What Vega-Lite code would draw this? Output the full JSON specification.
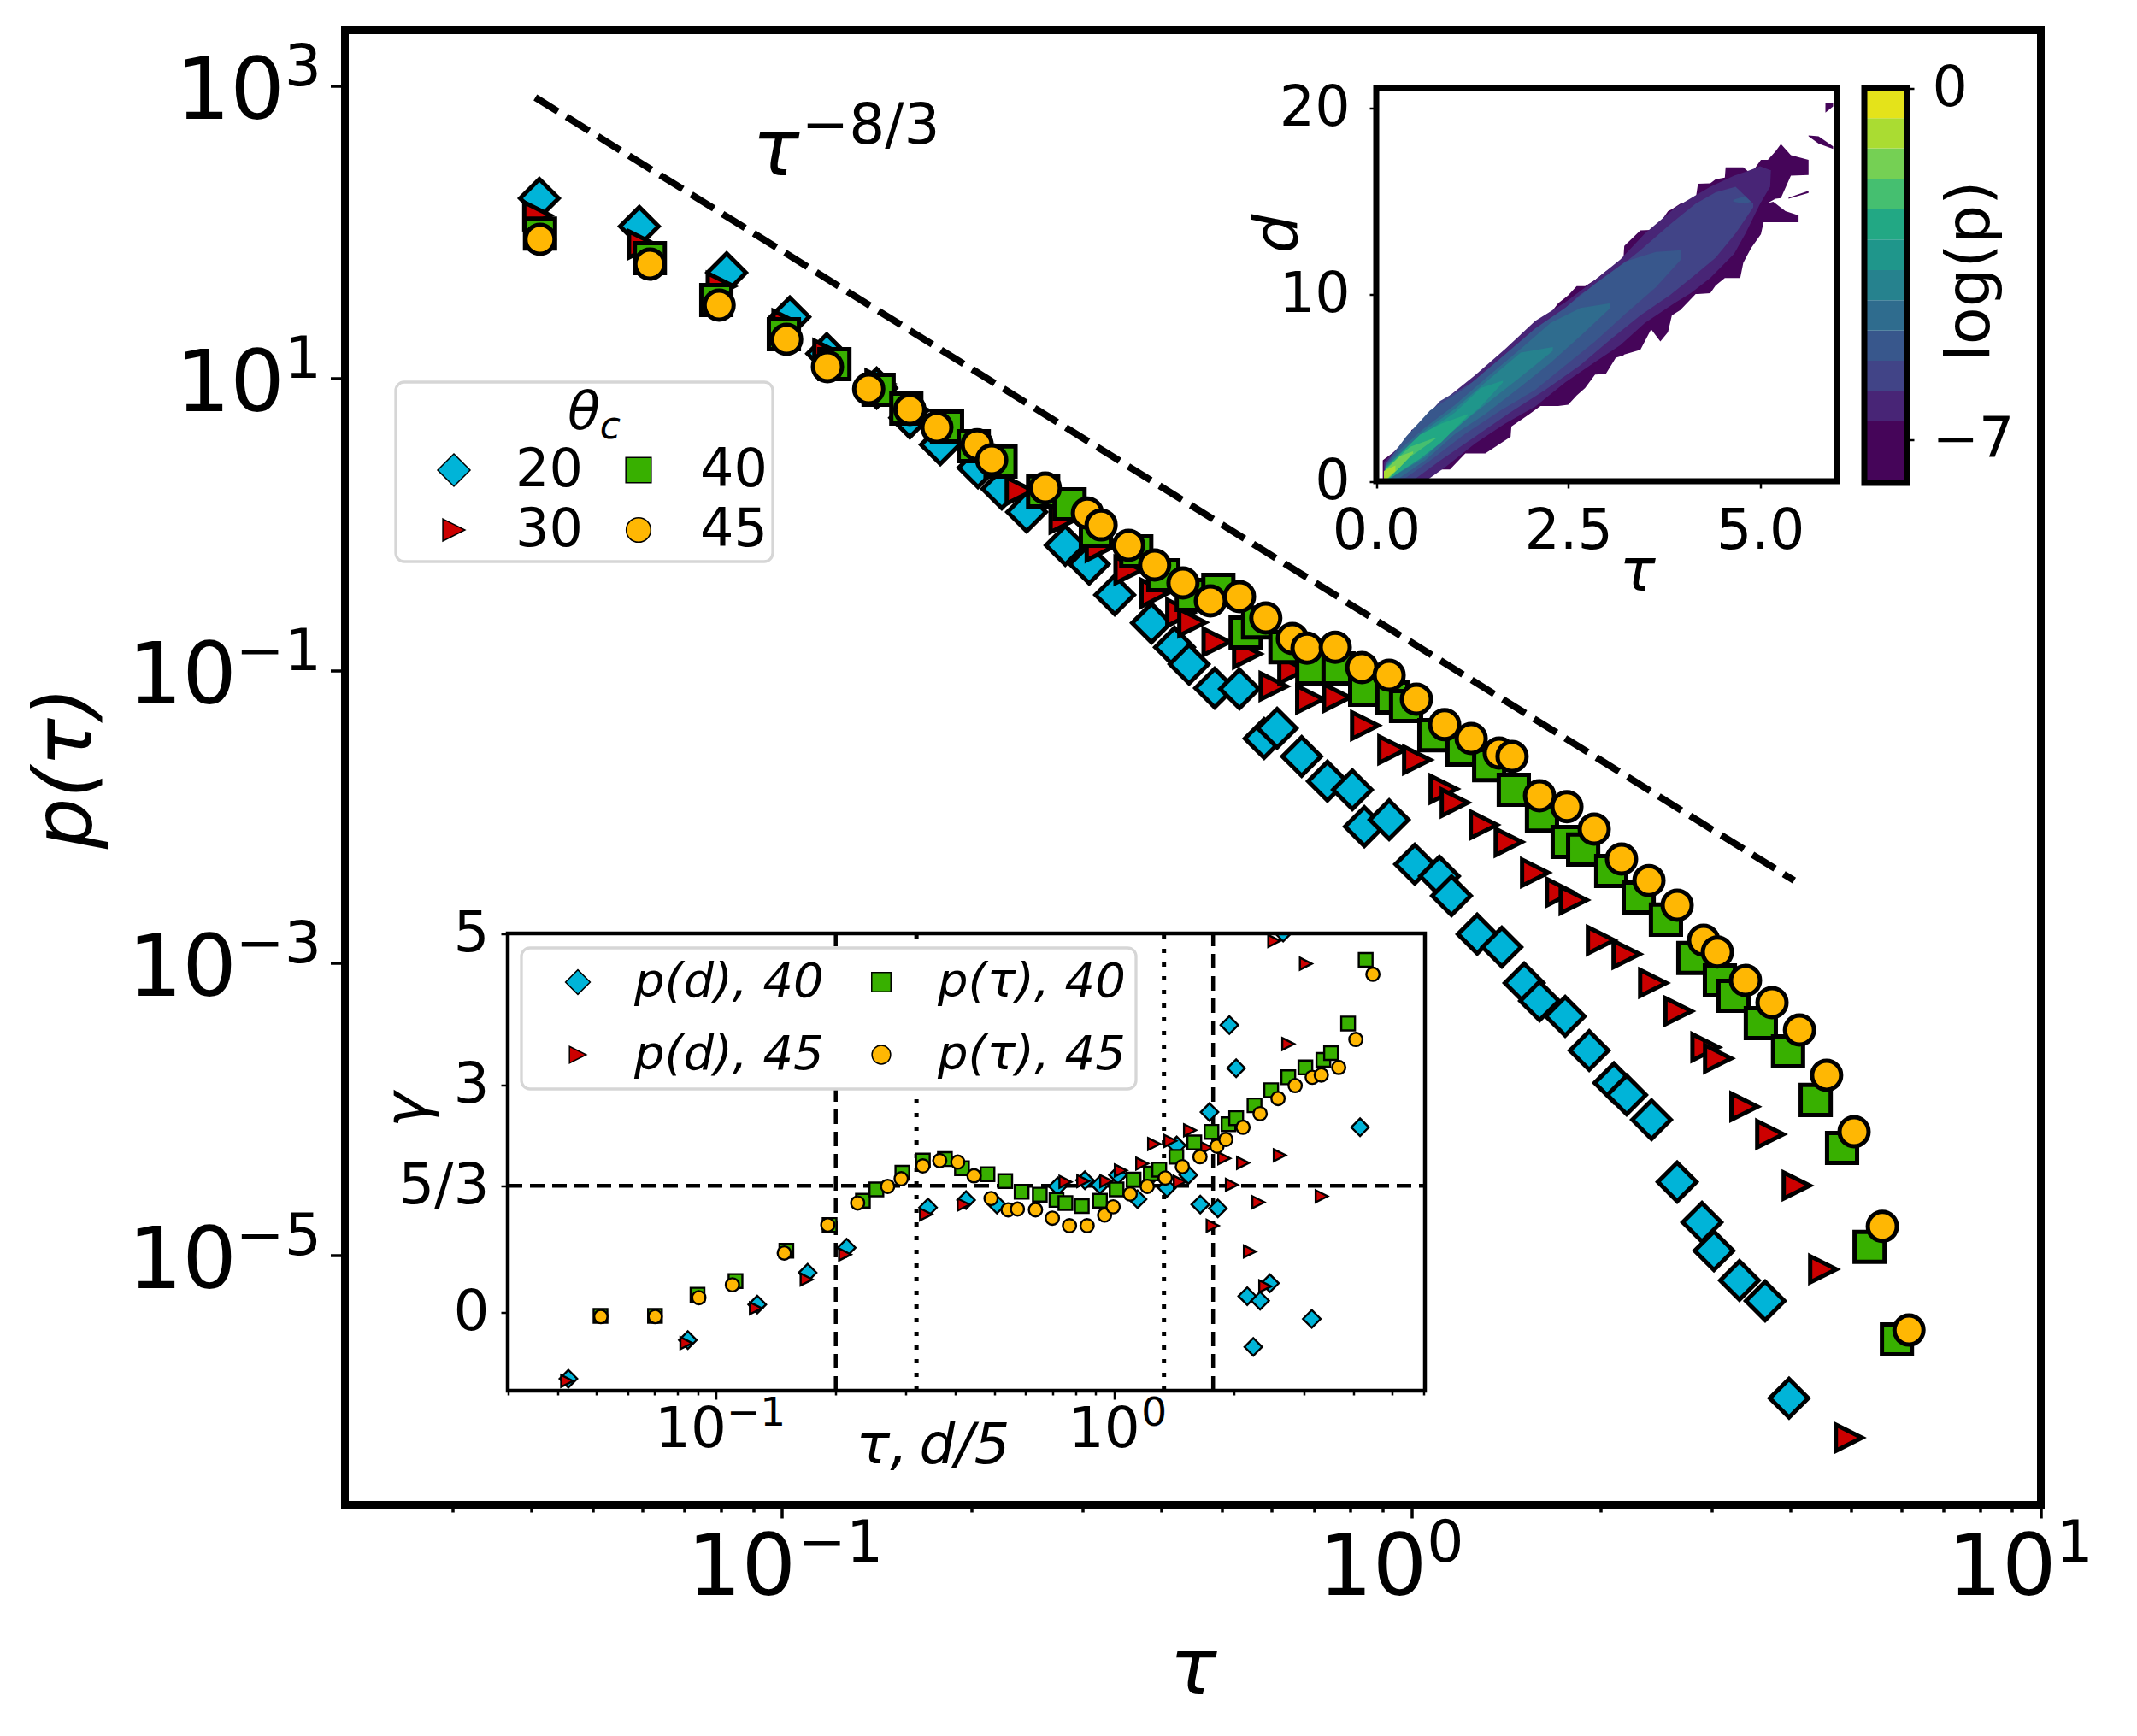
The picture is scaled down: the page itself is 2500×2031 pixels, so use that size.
{
  "$schema": "https://vega.github.io/schema/vega-lite/v6.json",
  "width": 1984,
  "height": 1725,
  "autosize": {"type": "none"},
  "padding": {"left": 403.5, "top": 35.5, "right": 112.5, "bottom": 270.5},
  "background": "white",
  "config": {
    "font": "DejaVu Sans",
    "view": {"stroke": "black", "strokeWidth": 9},
    "axis": {"grid": false, "domain": false, "labelColor": "black", "tickColor": "black", "titleColor": "black", "titleFontWeight": "normal", "labelOverlap": false, "labelFlush": false},
    "legend": {"strokeWidth": 3.3, "labelColor": "black", "titleColor": "black"}
  },
  "datasets": {
    "main": [
      {"theta":"20","tau":0.0409,"p":174},{"theta":"20","tau":0.0589,"p":112},{"theta":"20","tau":0.081,"p":54},{"theta":"20","tau":0.102,"p":26.9},{"theta":"20","tau":0.1167,"p":15.1},{"theta":"20","tau":0.14,"p":8.79},{"theta":"20","tau":0.158,"p":5.5},{"theta":"20","tau":0.1766,"p":3.61},{"theta":"20","tau":0.2026,"p":2.51},{"theta":"20","tau":0.221,"p":1.8},{"theta":"20","tau":0.242,"p":1.25},{"theta":"20","tau":0.2786,"p":0.74},{"theta":"20","tau":0.304,"p":0.551},{"theta":"20","tau":0.3337,"p":0.339},{"theta":"20","tau":0.3815,"p":0.218},{"theta":"20","tau":0.415,"p":0.149},{"theta":"20","tau":0.4377,"p":0.114},{"theta":"20","tau":0.4805,"p":0.0783},{"theta":"20","tau":0.526,"p":0.0773},{"theta":"20","tau":0.5755,"p":0.0354},{"theta":"20","tau":0.6034,"p":0.0416},{"theta":"20","tau":0.66,"p":0.0267},{"theta":"20","tau":0.725,"p":0.0181},{"theta":"20","tau":0.794,"p":0.0158},{"theta":"20","tau":0.8295,"p":0.00885},{"theta":"20","tau":0.908,"p":0.00986},{"theta":"20","tau":0.997,"p":0.0049},{"theta":"20","tau":1.091,"p":0.00406},{"theta":"20","tau":1.14,"p":0.00298},{"theta":"20","tau":1.252,"p":0.00163},{"theta":"20","tau":1.37,"p":0.00133},{"theta":"20","tau":1.486,"p":0.000756},{"theta":"20","tau":1.572,"p":0.00057},{"theta":"20","tau":1.726,"p":0.000448},{"theta":"20","tau":1.884,"p":0.000261},{"theta":"20","tau":2.062,"p":0.000157},{"theta":"20","tau":2.16,"p":0.00013},{"theta":"20","tau":2.365,"p":0.0000879},{"theta":"20","tau":2.597,"p":0.000033},{"theta":"20","tau":2.843,"p":0.0000175},{"theta":"20","tau":2.97,"p":0.0000112},{"theta":"20","tau":3.26,"p":0.00000701},{"theta":"20","tau":3.58,"p":0.00000508},{"theta":"20","tau":3.906,"p":0.0000011},
      {"theta":"30","tau":0.0406,"p":133},{"theta":"30","tau":0.0595,"p":84.2},{"theta":"30","tau":0.0793,"p":43.5},{"theta":"30","tau":0.1008,"p":24.1},{"theta":"30","tau":0.117,"p":15.1},{"theta":"30","tau":0.1415,"p":9.4},{"theta":"30","tau":0.161,"p":6.2},{"theta":"30","tau":0.236,"p":1.75},{"theta":"30","tau":0.277,"p":1.12},{"theta":"30","tau":0.316,"p":0.72},{"theta":"30","tau":0.351,"p":0.501},{"theta":"30","tau":0.386,"p":0.348},{"theta":"30","tau":0.424,"p":0.256},{"theta":"30","tau":0.443,"p":0.22},{"theta":"30","tau":0.484,"p":0.162},{"theta":"30","tau":0.541,"p":0.134},{"theta":"30","tau":0.596,"p":0.0804},{"theta":"30","tau":0.638,"p":0.104},{"theta":"30","tau":0.681,"p":0.0658},{"theta":"30","tau":0.751,"p":0.0675},{"theta":"30","tau":0.832,"p":0.0434},{"theta":"30","tau":0.919,"p":0.0297},{"theta":"30","tau":1.006,"p":0.0253},{"theta":"30","tau":1.108,"p":0.016},{"theta":"30","tau":1.154,"p":0.0129},{"theta":"30","tau":1.283,"p":0.0091},{"theta":"30","tau":1.405,"p":0.00695},{"theta":"30","tau":1.547,"p":0.00429},{"theta":"30","tau":1.694,"p":0.00315},{"theta":"30","tau":1.781,"p":0.00279},{"theta":"30","tau":1.967,"p":0.00148},{"theta":"30","tau":2.16,"p":0.00119},{"theta":"30","tau":2.38,"p":0.000756},{"theta":"30","tau":2.61,"p":0.000485},{"theta":"30","tau":2.88,"p":0.000275},{"theta":"30","tau":3.016,"p":0.000231},{"theta":"30","tau":3.32,"p":0.000108},{"theta":"30","tau":3.648,"p":0.00007},{"theta":"30","tau":4.018,"p":0.0000312},{"theta":"30","tau":4.426,"p":0.00000836},{"theta":"30","tau":4.86,"p":0.00000059},
      {"theta":"40","tau":0.041,"p":100},{"theta":"40","tau":0.0612,"p":67.9},{"theta":"40","tau":0.078,"p":35.1},{"theta":"40","tau":0.0998,"p":20.5},{"theta":"40","tau":0.12,"p":12.8},{"theta":"40","tau":0.141,"p":8.55},{"theta":"40","tau":0.156,"p":6.37},{"theta":"40","tau":0.181,"p":4.8},{"theta":"40","tau":0.1995,"p":3.52},{"theta":"40","tau":0.22,"p":2.77},{"theta":"40","tau":0.257,"p":1.73},{"theta":"40","tau":0.283,"p":1.41},{"theta":"40","tau":0.3115,"p":0.93},{"theta":"40","tau":0.361,"p":0.673},{"theta":"40","tau":0.3985,"p":0.462},{"theta":"40","tau":0.442,"p":0.339},{"theta":"40","tau":0.487,"p":0.367},{"theta":"40","tau":0.538,"p":0.1875},{"theta":"40","tau":0.563,"p":0.22},{"theta":"40","tau":0.622,"p":0.149},{"theta":"40","tau":0.686,"p":0.1067},{"theta":"40","tau":0.755,"p":0.1067},{"theta":"40","tau":0.832,"p":0.0762},{"theta":"40","tau":0.919,"p":0.0675},{"theta":"40","tau":0.966,"p":0.059},{"theta":"40","tau":1.071,"p":0.0373},{"theta":"40","tau":1.187,"p":0.0297},{"theta":"40","tau":1.308,"p":0.0233},{"theta":"40","tau":1.431,"p":0.0158},{"theta":"40","tau":1.586,"p":0.01054},{"theta":"40","tau":1.742,"p":0.00695},{"theta":"40","tau":1.843,"p":0.00617},{"theta":"40","tau":2.042,"p":0.0044},{"theta":"40","tau":2.257,"p":0.0029},{"theta":"40","tau":2.493,"p":0.00205},{"theta":"40","tau":2.755,"p":0.00112},{"theta":"40","tau":3.035,"p":0.000787},{"theta":"40","tau":3.19,"p":0.000618},{"theta":"40","tau":3.524,"p":0.000402},{"theta":"40","tau":3.892,"p":0.000258},{"theta":"40","tau":4.305,"p":0.00012},{"theta":"40","tau":4.74,"p":0.0000564},{"theta":"40","tau":5.24,"p":0.0000119},{"theta":"40","tau":5.79,"p":0.00000277},
      {"theta":"45","tau":0.041,"p":91.3},{"theta":"45","tau":0.0612,"p":61.8},{"theta":"45","tau":0.0788,"p":32.4},{"theta":"45","tau":0.1008,"p":18.9},{"theta":"45","tau":0.117,"p":12.3},{"theta":"45","tau":0.136,"p":8.67},{"theta":"45","tau":0.158,"p":6.28},{"theta":"45","tau":0.1744,"p":4.73},{"theta":"45","tau":0.202,"p":3.61},{"theta":"45","tau":0.213,"p":2.84},{"theta":"45","tau":0.259,"p":1.82},{"theta":"45","tau":0.302,"p":1.23},{"theta":"45","tau":0.3175,"p":1.02},{"theta":"45","tau":0.351,"p":0.74},{"theta":"45","tau":0.386,"p":0.543},{"theta":"45","tau":0.428,"p":0.409},{"theta":"45","tau":0.473,"p":0.309},{"theta":"45","tau":0.526,"p":0.33},{"theta":"45","tau":0.579,"p":0.236},{"theta":"45","tau":0.638,"p":0.171},{"theta":"45","tau":0.673,"p":0.147},{"theta":"45","tau":0.746,"p":0.149},{"theta":"45","tau":0.822,"p":0.108},{"theta":"45","tau":0.908,"p":0.0957},{"theta":"45","tau":1.003,"p":0.0658},{"theta":"45","tau":1.112,"p":0.044},{"theta":"45","tau":1.225,"p":0.0354},{"theta":"45","tau":1.357,"p":0.0282},{"theta":"45","tau":1.422,"p":0.0267},{"theta":"45","tau":1.572,"p":0.0144},{"theta":"45","tau":1.737,"p":0.0121},{"theta":"45","tau":1.919,"p":0.00851},{"theta":"45","tau":2.12,"p":0.00531},{"theta":"45","tau":2.343,"p":0.00379},{"theta":"45","tau":2.597,"p":0.00257},{"theta":"45","tau":2.86,"p":0.00148},{"theta":"45","tau":3.007,"p":0.00123},{"theta":"45","tau":3.332,"p":0.000787},{"theta":"45","tau":3.671,"p":0.000555},{"theta":"45","tau":4.058,"p":0.000361},{"theta":"45","tau":4.48,"p":0.000177},{"theta":"45","tau":4.952,"p":0.0000728},{"theta":"45","tau":5.49,"p":0.0000164},{"theta":"45","tau":6.05,"p":0.00000321}
    ],
    "gamma": [
      {"series":"p(d), 40","t":0.0426,"gamma":-0.88},{"series":"p(d), 40","t":0.085,"gamma":-0.37},{"series":"p(d), 40","t":0.127,"gamma":0.1},{"series":"p(d), 40","t":0.17,"gamma":0.52},{"series":"p(d), 40","t":0.213,"gamma":0.85},{"series":"p(d), 40","t":0.341,"gamma":1.38},{"series":"p(d), 40","t":0.425,"gamma":1.48},{"series":"p(d), 40","t":0.508,"gamma":1.42},{"series":"p(d), 40","t":0.722,"gamma":1.66},{"series":"p(d), 40","t":0.845,"gamma":1.74},{"series":"p(d), 40","t":0.922,"gamma":1.68},{"series":"p(d), 40","t":1.023,"gamma":1.81},{"series":"p(d), 40","t":1.146,"gamma":1.49},{"series":"p(d), 40","t":1.261,"gamma":1.84},{"series":"p(d), 40","t":1.358,"gamma":1.64},{"series":"p(d), 40","t":1.437,"gamma":2.2},{"series":"p(d), 40","t":1.537,"gamma":1.81},{"series":"p(d), 40","t":1.647,"gamma":1.42},{"series":"p(d), 40","t":1.737,"gamma":2.64},{"series":"p(d), 40","t":1.823,"gamma":1.37},{"series":"p(d), 40","t":1.949,"gamma":3.79},{"series":"p(d), 40","t":2.027,"gamma":3.22},{"series":"p(d), 40","t":2.161,"gamma":0.21},{"series":"p(d), 40","t":2.238,"gamma":-0.46},{"series":"p(d), 40","t":2.328,"gamma":0.15},{"series":"p(d), 40","t":2.464,"gamma":0.38},{"series":"p(d), 40","t":2.66,"gamma":5.01},{"series":"p(d), 40","t":3.139,"gamma":-0.09},{"series":"p(d), 40","t":4.15,"gamma":2.44},
      {"series":"p(d), 45","t":0.0423,"gamma":-0.91},{"series":"p(d), 45","t":0.0843,"gamma":-0.41},{"series":"p(d), 45","t":0.126,"gamma":0.05},{"series":"p(d), 45","t":0.169,"gamma":0.43},{"series":"p(d), 45","t":0.211,"gamma":0.76},{"series":"p(d), 45","t":0.337,"gamma":1.29},{"series":"p(d), 45","t":0.419,"gamma":1.42},{"series":"p(d), 45","t":0.755,"gamma":1.72},{"series":"p(d), 45","t":0.837,"gamma":1.73},{"series":"p(d), 45","t":0.956,"gamma":1.73},{"series":"p(d), 45","t":1.04,"gamma":1.87},{"series":"p(d), 45","t":1.177,"gamma":1.96},{"series":"p(d), 45","t":1.261,"gamma":2.22},{"series":"p(d), 45","t":1.385,"gamma":2.26},{"series":"p(d), 45","t":1.463,"gamma":1.72},{"series":"p(d), 45","t":1.552,"gamma":2.4},{"series":"p(d), 45","t":1.705,"gamma":2.17},{"series":"p(d), 45","t":1.769,"gamma":1.14},{"series":"p(d), 45","t":1.892,"gamma":2.03},{"series":"p(d), 45","t":1.977,"gamma":1.68},{"series":"p(d), 45","t":2.109,"gamma":1.97},{"series":"p(d), 45","t":2.194,"gamma":0.8},{"series":"p(d), 45","t":2.305,"gamma":1.45},{"series":"p(d), 45","t":2.398,"gamma":0.34},{"series":"p(d), 45","t":2.526,"gamma":4.9},{"series":"p(d), 45","t":2.608,"gamma":2.07},{"series":"p(d), 45","t":2.74,"gamma":3.54},{"series":"p(d), 45","t":3.034,"gamma":4.6},{"series":"p(d), 45","t":3.323,"gamma":1.53},
      {"series":"p(τ), 40","t":0.0513,"gamma":-0.05},{"series":"p(τ), 40","t":0.0703,"gamma":-0.05},{"series":"p(τ), 40","t":0.0899,"gamma":0.23},{"series":"p(τ), 40","t":0.112,"gamma":0.41},{"series":"p(τ), 40","t":0.1503,"gamma":0.81},{"series":"p(τ), 40","t":0.193,"gamma":1.15},{"series":"p(τ), 40","t":0.234,"gamma":1.47},{"series":"p(τ), 40","t":0.253,"gamma":1.62},{"series":"p(τ), 40","t":0.294,"gamma":1.84},{"series":"p(τ), 40","t":0.331,"gamma":2.0},{"series":"p(τ), 40","t":0.376,"gamma":2.02},{"series":"p(τ), 40","t":0.415,"gamma":1.9},{"series":"p(τ), 40","t":0.481,"gamma":1.82},{"series":"p(τ), 40","t":0.533,"gamma":1.73},{"series":"p(τ), 40","t":0.586,"gamma":1.59},{"series":"p(τ), 40","t":0.651,"gamma":1.55},{"series":"p(τ), 40","t":0.717,"gamma":1.48},{"series":"p(τ), 40","t":0.755,"gamma":1.44},{"series":"p(τ), 40","t":0.83,"gamma":1.4},{"series":"p(τ), 40","t":0.922,"gamma":1.47},{"series":"p(τ), 40","t":1.015,"gamma":1.62},{"series":"p(τ), 40","t":1.12,"gamma":1.75},{"series":"p(τ), 40","t":1.237,"gamma":1.83},{"series":"p(τ), 40","t":1.299,"gamma":1.88},{"series":"p(τ), 40","t":1.434,"gamma":2.05},{"series":"p(τ), 40","t":1.591,"gamma":2.24},{"series":"p(τ), 40","t":1.757,"gamma":2.38},{"series":"p(τ), 40","t":1.939,"gamma":2.48},{"series":"p(τ), 40","t":2.027,"gamma":2.56},{"series":"p(τ), 40","t":2.254,"gamma":2.73},{"series":"p(τ), 40","t":2.482,"gamma":2.93},{"series":"p(τ), 40","t":2.74,"gamma":3.1},{"series":"p(τ), 40","t":3.025,"gamma":3.23},{"series":"p(τ), 40","t":3.356,"gamma":3.33},{"series":"p(τ), 40","t":3.509,"gamma":3.42},{"series":"p(τ), 40","t":3.873,"gamma":3.81},{"series":"p(τ), 40","t":4.287,"gamma":4.65},
      {"series":"p(τ), 45","t":0.0514,"gamma":-0.06},{"series":"p(τ), 45","t":0.0704,"gamma":-0.06},{"series":"p(τ), 45","t":0.0906,"gamma":0.19},{"series":"p(τ), 45","t":0.11,"gamma":0.36},{"series":"p(τ), 45","t":0.1485,"gamma":0.78},{"series":"p(τ), 45","t":0.191,"gamma":1.15},{"series":"p(τ), 45","t":0.227,"gamma":1.44},{"series":"p(τ), 45","t":0.27,"gamma":1.66},{"series":"p(τ), 45","t":0.292,"gamma":1.76},{"series":"p(τ), 45","t":0.331,"gamma":1.93},{"series":"p(τ), 45","t":0.365,"gamma":2.0},{"series":"p(τ), 45","t":0.405,"gamma":1.98},{"series":"p(τ), 45","t":0.445,"gamma":1.8},{"series":"p(τ), 45","t":0.491,"gamma":1.5},{"series":"p(τ), 45","t":0.542,"gamma":1.35},{"series":"p(τ), 45","t":0.572,"gamma":1.36},{"series":"p(τ), 45","t":0.635,"gamma":1.35},{"series":"p(τ), 45","t":0.7,"gamma":1.24},{"series":"p(τ), 45","t":0.773,"gamma":1.14},{"series":"p(τ), 45","t":0.856,"gamma":1.14},{"series":"p(τ), 45","t":0.947,"gamma":1.28},{"series":"p(τ), 45","t":0.995,"gamma":1.39},{"series":"p(τ), 45","t":1.098,"gamma":1.56},{"series":"p(τ), 45","t":1.212,"gamma":1.66},{"series":"p(τ), 45","t":1.345,"gamma":1.77},{"series":"p(τ), 45","t":1.485,"gamma":1.92},{"series":"p(τ), 45","t":1.644,"gamma":2.05},{"series":"p(τ), 45","t":1.814,"gamma":2.19},{"series":"p(τ), 45","t":1.91,"gamma":2.28},{"series":"p(τ), 45","t":2.109,"gamma":2.44},{"series":"p(τ), 45","t":2.328,"gamma":2.62},{"series":"p(τ), 45","t":2.582,"gamma":2.82},{"series":"p(τ), 45","t":2.851,"gamma":2.99},{"series":"p(τ), 45","t":3.147,"gamma":3.1},{"series":"p(τ), 45","t":3.316,"gamma":3.13},{"series":"p(τ), 45","t":3.668,"gamma":3.23},{"series":"p(τ), 45","t":4.05,"gamma":3.6},{"series":"p(τ), 45","t":4.47,"gamma":4.46}
    ],
    "contour": [
      {"level":-7.85,"piece":"a","tau":0.085,"lo":0,"hi":1.12},{"level":-7.85,"piece":"a","tau":0.44,"lo":0,"hi":2.21},{"level":-7.85,"piece":"a","tau":0.457,"lo":0,"hi":2.75},{"level":-7.85,"piece":"a","tau":0.67,"lo":0,"hi":3.11},{"level":-7.85,"piece":"a","tau":0.69,"lo":0.63,"hi":3.62},{"level":-7.85,"piece":"a","tau":0.96,"lo":0.63,"hi":4.47},{"level":-7.85,"piece":"a","tau":1.16,"lo":1.49,"hi":5.11},{"level":-7.85,"piece":"a","tau":1.42,"lo":1.49,"hi":6.01},{"level":-7.85,"piece":"a","tau":1.75,"lo":2.39,"hi":7.2},{"level":-7.85,"piece":"a","tau":1.76,"lo":2.93,"hi":7.2},{"level":-7.85,"piece":"a","tau":2.01,"lo":3.65,"hi":8.24},{"level":-7.85,"piece":"a","tau":2.14,"lo":4.04,"hi":8.35},{"level":-7.85,"piece":"a","tau":2.37,"lo":4.04,"hi":9.55},{"level":-7.85,"piece":"a","tau":2.5,"lo":4.11,"hi":9.98},{"level":-7.85,"piece":"a","tau":2.61,"lo":4.6,"hi":10.47},{"level":-7.85,"piece":"a","tau":2.72,"lo":5.0,"hi":10.47},{"level":-7.85,"piece":"a","tau":2.85,"lo":5.72,"hi":10.8},{"level":-7.85,"piece":"a","tau":2.99,"lo":5.76,"hi":11.26},{"level":-7.85,"piece":"a","tau":3.12,"lo":6.63,"hi":11.63},{"level":-7.85,"piece":"a","tau":3.22,"lo":6.76,"hi":12.0},{"level":-7.85,"piece":"a","tau":3.23,"lo":6.8,"hi":12.63},{"level":-7.85,"piece":"a","tau":3.44,"lo":7.05,"hi":13.46},{"level":-7.85,"piece":"a","tau":3.58,"lo":8.15,"hi":13.48},{"level":-7.85,"piece":"a","tau":3.7,"lo":7.5,"hi":13.9},{"level":-7.85,"piece":"a","tau":3.8,"lo":8.0,"hi":14.5},{"level":-7.85,"piece":"a","tau":3.85,"lo":8.9,"hi":14.6},{"level":-7.85,"piece":"a","tau":3.96,"lo":9.18,"hi":14.9},{"level":-7.85,"piece":"a","tau":4.16,"lo":10.05,"hi":15.15},{"level":-7.85,"piece":"a","tau":4.19,"lo":10.04,"hi":15.96},{"level":-7.85,"piece":"a","tau":4.35,"lo":10.09,"hi":15.98},{"level":-7.85,"piece":"a","tau":4.42,"lo":10.5,"hi":16.2},{"level":-7.85,"piece":"a","tau":4.54,"lo":10.9,"hi":16.3},{"level":-7.85,"piece":"a","tau":4.55,"lo":10.9,"hi":16.84},{"level":-7.85,"piece":"a","tau":4.74,"lo":10.9,"hi":16.84},{"level":-7.85,"piece":"a","tau":4.78,"lo":11.72,"hi":16.84},{"level":-7.85,"piece":"a","tau":4.88,"lo":12.5,"hi":16.5},{"level":-7.85,"piece":"a","tau":5.01,"lo":13.26,"hi":17.25},{"level":-7.85,"piece":"a","tau":5.1,"lo":14.93,"hi":17.25},{"level":-7.85,"piece":"a","tau":5.2,"lo":15.16,"hi":17.7},{"level":-7.85,"piece":"a","tau":5.27,"lo":15.2,"hi":18.1},{"level":-7.85,"piece":"a","tau":5.4,"lo":16.4,"hi":17.5},{"level":-7.85,"piece":"a","tau":5.63,"lo":16.43,"hi":17.25},
      {"level":-7.85,"piece":"b","tau":4.91,"lo":13.9,"hi":14.7},{"level":-7.85,"piece":"b","tau":5.17,"lo":13.9,"hi":15.0},{"level":-7.85,"piece":"b","tau":5.33,"lo":13.9,"hi":14.5},{"level":-7.85,"piece":"b","tau":5.5,"lo":13.9,"hi":14.26},
      {"level":-7.85,"piece":"c","tau":5.37,"lo":15.16,"hi":15.22},{"level":-7.85,"piece":"c","tau":5.63,"lo":15.47,"hi":15.58},
      {"level":-7.85,"piece":"d","tau":5.63,"lo":18.51,"hi":18.55},{"level":-7.85,"piece":"d","tau":5.76,"lo":18.12,"hi":18.51},{"level":-7.85,"piece":"d","tau":5.95,"lo":17.83,"hi":17.97},
      {"level":-7.85,"piece":"e","tau":5.85,"lo":19.78,"hi":20.27},{"level":-7.85,"piece":"e","tau":5.95,"lo":20.11,"hi":20.27},
      {"level":-6.62,"piece":"a","tau":0.1,"lo":0,"hi":1.03},{"level":-6.62,"piece":"a","tau":0.64,"lo":0,"hi":3.3},{"level":-6.62,"piece":"a","tau":0.9,"lo":0.76,"hi":4.4},{"level":-6.62,"piece":"a","tau":1.29,"lo":2.03,"hi":5.7},{"level":-6.62,"piece":"a","tau":1.68,"lo":3.1,"hi":7.1},{"level":-6.62,"piece":"a","tau":2.07,"lo":4.0,"hi":8.6},{"level":-6.62,"piece":"a","tau":2.46,"lo":5.3,"hi":9.6},{"level":-6.62,"piece":"a","tau":2.85,"lo":6.4,"hi":10.8},{"level":-6.62,"piece":"a","tau":3.18,"lo":7.3,"hi":11.9},{"level":-6.62,"piece":"a","tau":3.5,"lo":8.5,"hi":13.3},{"level":-6.62,"piece":"a","tau":3.9,"lo":9.6,"hi":14.7},{"level":-6.62,"piece":"a","tau":4.1,"lo":10.1,"hi":15.2},{"level":-6.62,"piece":"a","tau":4.35,"lo":10.9,"hi":15.8},{"level":-6.62,"piece":"a","tau":4.66,"lo":12.2,"hi":16.4},{"level":-6.62,"piece":"a","tau":4.81,"lo":13.3,"hi":16.6},{"level":-6.62,"piece":"a","tau":5.0,"lo":14.9,"hi":16.9},{"level":-6.62,"piece":"a","tau":5.13,"lo":15.8,"hi":16.7},{"level":-6.62,"piece":"a","tau":5.14,"lo":16.7,"hi":16.7},
      {"level":-6.02,"piece":"a","tau":0.12,"lo":0,"hi":0.95},{"level":-6.02,"piece":"a","tau":0.5,"lo":0.1,"hi":2.8},{"level":-6.02,"piece":"a","tau":0.83,"lo":1.1,"hi":4.3},{"level":-6.02,"piece":"a","tau":1.29,"lo":2.4,"hi":5.4},{"level":-6.02,"piece":"a","tau":1.75,"lo":3.7,"hi":7.0},{"level":-6.02,"piece":"a","tau":2.2,"lo":4.9,"hi":8.3},{"level":-6.02,"piece":"a","tau":2.65,"lo":6.2,"hi":10},{"level":-6.02,"piece":"a","tau":3.05,"lo":7.6,"hi":11.1},{"level":-6.02,"piece":"a","tau":3.44,"lo":8.9,"hi":12.4},{"level":-6.02,"piece":"a","tau":3.83,"lo":10,"hi":13.8},{"level":-6.02,"piece":"a","tau":4.16,"lo":11.1,"hi":14.9},{"level":-6.02,"piece":"a","tau":4.42,"lo":12,"hi":15.5},{"level":-6.02,"piece":"a","tau":4.68,"lo":13.3,"hi":15.8},{"level":-6.02,"piece":"a","tau":4.91,"lo":14.7,"hi":14.9},
      {"level":-5.42,"piece":"a","tau":0.12,"lo":0,"hi":0.9},{"level":-5.42,"piece":"a","tau":0.39,"lo":0.2,"hi":2.4},{"level":-5.42,"piece":"a","tau":0.7,"lo":1.1,"hi":3.8},{"level":-5.42,"piece":"a","tau":1.16,"lo":2.55,"hi":5.0},{"level":-5.42,"piece":"a","tau":1.62,"lo":3.8,"hi":6.6},{"level":-5.42,"piece":"a","tau":2.07,"lo":4.9,"hi":8.2},{"level":-5.42,"piece":"a","tau":2.46,"lo":6.2,"hi":9.3},{"level":-5.42,"piece":"a","tau":2.85,"lo":7.5,"hi":10.6},{"level":-5.42,"piece":"a","tau":3.25,"lo":9.0,"hi":11.8},{"level":-5.42,"piece":"a","tau":3.64,"lo":10.4,"hi":12.3},{"level":-5.42,"piece":"a","tau":3.97,"lo":11.9,"hi":12.4},
      {"level":-5.42,"piece":"b","tau":4.65,"lo":15.0,"hi":15.1},{"level":-5.42,"piece":"b","tau":4.8,"lo":14.9,"hi":15.3},{"level":-5.42,"piece":"b","tau":4.88,"lo":15.0,"hi":15.0},
      {"level":-4.82,"piece":"a","tau":0.12,"lo":0,"hi":0.85},{"level":-4.82,"piece":"a","tau":0.31,"lo":0.2,"hi":1.7},{"level":-4.82,"piece":"a","tau":0.64,"lo":1.12,"hi":2.9},{"level":-4.82,"piece":"a","tau":1.03,"lo":2.55,"hi":4.1},{"level":-4.82,"piece":"a","tau":1.42,"lo":3.6,"hi":5.5},{"level":-4.82,"piece":"a","tau":1.88,"lo":5.07,"hi":7.1},{"level":-4.82,"piece":"a","tau":2.27,"lo":6.35,"hi":8.5},{"level":-4.82,"piece":"a","tau":2.66,"lo":7.8,"hi":9.3},{"level":-4.82,"piece":"a","tau":3.05,"lo":9.3,"hi":9.55},
      {"level":-4.22,"piece":"a","tau":0.12,"lo":0,"hi":0.8},{"level":-4.22,"piece":"a","tau":0.64,"lo":1.3,"hi":2.75},{"level":-4.22,"piece":"a","tau":1.03,"lo":2.85,"hi":3.9},{"level":-4.22,"piece":"a","tau":1.42,"lo":4.1,"hi":5.3},{"level":-4.22,"piece":"a","tau":1.88,"lo":5.6,"hi":6.9},{"level":-4.22,"piece":"a","tau":2.3,"lo":7.0,"hi":7.2},
      {"level":-3.62,"piece":"a","tau":0.12,"lo":0,"hi":0.75},{"level":-3.62,"piece":"a","tau":0.64,"lo":1.49,"hi":2.6},{"level":-3.62,"piece":"a","tau":1.03,"lo":2.8,"hi":3.7},{"level":-3.62,"piece":"a","tau":1.36,"lo":4.0,"hi":5.0},{"level":-3.62,"piece":"a","tau":1.65,"lo":5.3,"hi":5.4},
      {"level":-3.01,"piece":"a","tau":0.12,"lo":0,"hi":0.7},{"level":-3.01,"piece":"a","tau":0.57,"lo":1.2,"hi":2.5},{"level":-3.01,"piece":"a","tau":0.85,"lo":2.1,"hi":3.1},{"level":-3.01,"piece":"a","tau":1.19,"lo":3.5,"hi":3.6},
      {"level":-2.41,"piece":"a","tau":0.12,"lo":0,"hi":0.65},{"level":-2.41,"piece":"a","tau":0.44,"lo":1.3,"hi":1.85},{"level":-2.41,"piece":"a","tau":0.78,"lo":2.3,"hi":2.35},
      {"level":-1.81,"piece":"a","tau":0.12,"lo":0,"hi":0.6},{"level":-1.81,"piece":"a","tau":0.31,"lo":0.76,"hi":1.35},{"level":-1.81,"piece":"a","tau":0.48,"lo":1.5,"hi":1.6},
      {"level":-1.2,"piece":"a","tau":0.1,"lo":0,"hi":0.55},{"level":-1.2,"piece":"a","tau":0.25,"lo":0.55,"hi":0.85}
    ],
    "bands": [
      {"level":-7.85,"high":-6.62},{"level":-6.62,"high":-6.02},{"level":-6.02,"high":-5.42},{"level":-5.42,"high":-4.82},{"level":-4.82,"high":-4.22},{"level":-4.22,"high":-3.62},{"level":-3.62,"high":-3.01},{"level":-3.01,"high":-2.41},{"level":-2.41,"high":-1.81},{"level":-1.81,"high":-1.2},{"level":-1.2,"high":-0.6},{"level":-0.6,"high":0}
    ]
  },
  "resolve": {
    "scale": {"x": "independent", "y": "independent", "fill": "independent", "shape": "independent"},
    "axis": {"x": "independent", "y": "independent"},
    "legend": {"fill": "independent", "shape": "independent"}
  },
  "layer": [
    {
      "data": {"values": [{"tau": 0.0403, "p": 851}, {"tau": 3.98, "p": 0.00379}]},
      "mark": {"type": "line", "color": "black", "strokeWidth": 8, "strokeDash": [31, 12]},
      "encoding": {
        "x": {"field": "tau", "type": "quantitative", "scale": {"type": "log", "domain": [0.02012, 9.788], "nice": false}, "axis": null},
        "y": {"field": "p", "type": "quantitative", "scale": {"type": "log", "domain": [2.054e-7, 2446], "nice": false}, "axis": null}
      }
    },
    {
      "data": {"name": "main"},
      "mark": {"type": "point", "filled": true, "stroke": "black", "strokeWidth": 5, "opacity": 1, "size": 2025},
      "encoding": {
        "x": {"field": "tau", "type": "quantitative", "scale": {"type": "log", "domain": [0.02012, 9.788], "nice": false}, "axis": null},
        "y": {"field": "p", "type": "quantitative", "scale": {"type": "log", "domain": [2.054e-7, 2446], "nice": false}, "axis": null},
        "fill": {"field": "theta", "type": "nominal",
          "scale": {"domain": ["20","30","40","45"], "range": ["#00B4D8","#CC0000","#38B000","#FFB703"]},
          "legend": {"orient": "none", "legendX": 59.5, "legendY": 411.5, "columns": 2, "title": "θ\u00a0\u00a0\u00a0", "titleFontSize": 62, "titleFontStyle": "italic", "titleFontWeight": "normal", "titleAnchor": "middle", "titlePadding": 4, "labelFontSize": 62, "labelOffset": 41, "columnPadding": 3, "rowPadding": 8, "symbolOffset": 31, "symbolSize": 1444, "strokeColor": "#d6d6d6", "cornerRadius": 10, "padding": 6, "encoding": {"symbols": {"update": {"stroke": {"value": "black"}, "strokeWidth": {"value": 3.3}}}}}},
        "shape": {"field": "theta", "type": "nominal",
          "scale": {"domain": ["20","30","40","45"], "range": ["M-1,0L0,-1L1,0L0,1Z","M-0.68,-0.68L0.68,0L-0.68,0.68Z","M-0.78,-0.78L0.78,-0.78L0.78,0.78L-0.78,0.78Z","M-0.755,0A0.755,0.755 0 1,1 0.755,0A0.755,0.755 0 1,1 -0.755,0Z"]},
          "legend": {"orient": "none", "legendX": 59.5, "legendY": 411.5, "columns": 2, "title": "θ\u00a0\u00a0\u00a0", "titleFontSize": 62, "titleFontStyle": "italic", "titleFontWeight": "normal", "titleAnchor": "middle", "titlePadding": 4, "labelFontSize": 62, "labelOffset": 41, "columnPadding": 3, "rowPadding": 8, "symbolOffset": 31, "symbolSize": 1444, "strokeColor": "#d6d6d6", "cornerRadius": 10, "padding": 6, "encoding": {"symbols": {"update": {"stroke": {"value": "black"}, "strokeWidth": {"value": 3.3}}}}}}
      }
    },
    {
      "data": {"values": [{"tau": 0.0889, "p": 250, "label": "τ"}]},
      "mark": {"type": "text", "fontSize": 92, "fontStyle": "italic", "align": "left", "baseline": "alphabetic", "color": "black"},
      "encoding": {
        "x": {"field": "tau", "type": "quantitative", "scale": {"type": "log", "domain": [0.02012, 9.788], "nice": false}, "axis": null},
        "y": {"field": "p", "type": "quantitative", "scale": {"type": "log", "domain": [2.054e-7, 2446], "nice": false}, "axis": null},
        "text": {"field": "label"}
      }
    },
    {
      "data": {"values": [{"tau": 0.1065, "p": 410, "label": "−8/3"}]},
      "mark": {"type": "text", "fontSize": 66, "align": "left", "baseline": "alphabetic", "color": "black"},
      "encoding": {
        "x": {"field": "tau", "type": "quantitative", "scale": {"type": "log", "domain": [0.02012, 9.788], "nice": false}, "axis": null},
        "y": {"field": "p", "type": "quantitative", "scale": {"type": "log", "domain": [2.054e-7, 2446], "nice": false}, "axis": null},
        "text": {"field": "label"}
      }
    },
    {
      "data": {"values": [{"tau": 0.051, "p": 3.97, "label": "c"}]},
      "mark": {"type": "text", "fontSize": 44, "fontStyle": "italic", "align": "left", "baseline": "alphabetic", "color": "black"},
      "encoding": {
        "x": {"field": "tau", "type": "quantitative", "scale": {"type": "log", "domain": [0.02012, 9.788], "nice": false}, "axis": null},
        "y": {"field": "p", "type": "quantitative", "scale": {"type": "log", "domain": [2.054e-7, 2446], "nice": false}, "axis": null},
        "text": {"field": "label"}
      }
    },
    {
      "data": {"values": [{"tau": 0.1, "exp": "−1"}, {"tau": 1, "exp": "0"}, {"tau": 10, "exp": "1"}]},
      "mark": {"type": "text", "fontSize": 68, "align": "left", "baseline": "alphabetic", "dx": 18, "dy": 66, "color": "black"},
      "encoding": {
        "x": {"field": "tau", "type": "quantitative",
          "scale": {"type": "log", "domain": [0.0202, 10], "nice": false},
          "axis": {"orient": "bottom", "title": "τ", "titleFontSize": 92, "titleFontStyle": "italic", "titleY": 192.5, "titleBaseline": "middle",
            "values": [0.02,0.03,0.04,0.05,0.06,0.07,0.08,0.09,0.1,0.2,0.3,0.4,0.5,0.6,0.7,0.8,0.9,1,2,3,4,5,6,7,8,9,10],
            "labelExpr": "indexof([0.1,1,10],datum.value)>=0 ? '10' : ''",
            "labelFontSize": 100, "labelPadding": 10,
            "labelOffset": {"condition": {"test": "datum.value==0.1", "value": -48}, "value": -46},
            "tickSize": {"condition": {"test": "indexof([0.1,1,10],datum.value)>=0", "value": 15.5}, "value": 8.5},
            "tickWidth": 3.5}},
        "y": {"datum": 1.97e-7, "type": "quantitative", "scale": {"type": "log", "domain": [1.97e-7, 2415], "nice": false}, "axis": null},
        "text": {"field": "exp"}
      }
    },
    {
      "data": {"values": [{"p": 1000, "exp": "3"}, {"p": 10, "exp": "1"}, {"p": 0.1, "exp": "−1"}, {"p": 0.001, "exp": "−3"}, {"p": 0.00001, "exp": "−5"}]},
      "mark": {"type": "text", "fontSize": 68, "align": "right", "baseline": "alphabetic", "dx": -27.5, "dy": -1, "color": "black"},
      "encoding": {
        "x": {"datum": 0.0202, "type": "quantitative", "scale": {"type": "log", "domain": [0.0202, 10], "nice": false}, "axis": null},
        "y": {"field": "p", "type": "quantitative",
          "scale": {"type": "log", "domain": [1.97e-7, 2415], "nice": false},
          "axis": {"orient": "left", "title": "p(τ)", "titleFontSize": 94, "titleFontStyle": "italic", "titleX": -325.5, "titleBaseline": "middle",
            "values": [1000,10,0.1,0.001,0.00001],
            "labelExpr": "'10'",
            "labelFontSize": 100, "labelOffset": 8,
            "labelPadding": {"condition": {"test": "datum.value>=1", "value": 54}, "value": 110},
            "tickSize": 17, "tickWidth": 3.5}},
        "text": {"field": "exp"}
      }
    },
    {
      "data": {"values": [{"box": "gamma"}]},
      "mark": {"type": "rect", "fill": "white"},
      "encoding": {
        "x": {"datum": 0.03, "type": "quantitative", "scale": {"type": "log", "domain": [0.03, 6.04], "range": [190.5, 1263.5], "nice": false},
          "axis": {"orient": "bottom", "offset": -133.5, "title": "τ,\u2009d/5", "titleFontSize": 66, "titleFontStyle": "italic", "titleX": 687.5, "titleY": 64, "titleBaseline": "middle",
            "values": [0.03,0.04,0.05,0.06,0.07,0.08,0.09,0.1,0.2,0.3,0.4,0.5,0.6,0.7,0.8,0.9,1,2,3,4,5,6],
            "labelExpr": "indexof([0.1,1],datum.value)>=0 ? '10' : ''",
            "labelFontSize": 66, "labelPadding": 3,
            "labelOffset": {"condition": {"test": "datum.value==0.1", "value": -30}, "value": -12},
            "tickSize": {"condition": {"test": "indexof([0.1,1],datum.value)>=0", "value": 10}, "value": 5},
            "tickWidth": 2.5}},
        "x2": {"datum": 6.04},
        "y": {"datum": -1.038, "type": "quantitative", "scale": {"domain": [-1.038, 5], "range": [1591.5, 1056.5], "nice": false, "zero": false},
          "axis": {"orient": "left", "offset": -190.5, "title": "γ", "titleFontSize": 70, "titleFontStyle": "italic", "titleX": -117, "titleY": 1262.5, "titleBaseline": "middle",
            "values": [0, 1.6666666666666667, 3, 5],
            "labelExpr": "datum.value==0 ? '0' : datum.value==3 ? '3' : datum.value==5 ? '5' : '5/3'",
            "labelFontSize": 66, "labelPadding": 14, "tickSize": 8, "tickWidth": 2.5}},
        "y2": {"datum": 5}
      }
    },
    {
      "data": {"values": [{"t": 0.2}, {"t": 1.774}]},
      "mark": {"type": "rule", "color": "black", "strokeWidth": 4.5, "strokeDash": [17, 9]},
      "encoding": {
        "x": {"field": "t", "type": "quantitative", "scale": {"type": "log", "domain": [0.03, 6.04], "range": [190.5, 1263.5], "nice": false}, "axis": null},
        "y": {"datum": -1.038, "type": "quantitative", "scale": {"domain": [-1.038, 5], "range": [1591.5, 1056.5], "nice": false, "zero": false}, "axis": null},
        "y2": {"datum": 5}
      }
    },
    {
      "data": {"values": [{"t": 0.319}, {"t": 1.335}]},
      "mark": {"type": "rule", "color": "black", "strokeWidth": 5, "strokeDash": [5, 11]},
      "encoding": {
        "x": {"field": "t", "type": "quantitative", "scale": {"type": "log", "domain": [0.03, 6.04], "range": [190.5, 1263.5], "nice": false}, "axis": null},
        "y": {"datum": -1.038, "type": "quantitative", "scale": {"domain": [-1.038, 5], "range": [1591.5, 1056.5], "nice": false, "zero": false}, "axis": null},
        "y2": {"datum": 5}
      }
    },
    {
      "data": {"values": [{"gamma": 1.6666666666666667}]},
      "mark": {"type": "rule", "color": "black", "strokeWidth": 4.5, "strokeDash": [17, 9]},
      "encoding": {
        "x": {"datum": 0.03, "type": "quantitative", "scale": {"type": "log", "domain": [0.03, 6.04], "range": [190.5, 1263.5], "nice": false}, "axis": null},
        "x2": {"datum": 6.04},
        "y": {"field": "gamma", "type": "quantitative", "scale": {"domain": [-1.038, 5], "range": [1591.5, 1056.5], "nice": false, "zero": false}, "axis": null}
      }
    },
    {
      "data": {"name": "gamma"},
      "mark": {"type": "point", "filled": true, "stroke": "black", "strokeWidth": 2.4, "opacity": 1, "size": 424},
      "encoding": {
        "x": {"field": "t", "type": "quantitative", "scale": {"type": "log", "domain": [0.03, 6.04], "range": [190.5, 1263.5], "nice": false}, "axis": null},
        "y": {"field": "gamma", "type": "quantitative", "scale": {"domain": [-1.038, 5], "range": [1591.5, 1056.5], "nice": false, "zero": false}, "axis": null},
        "fill": {"field": "series", "type": "nominal",
          "scale": {"domain": ["p(d), 40","p(d), 45","p(τ), 40","p(τ), 45"], "range": ["#00B4D8","#CC0000","#38B000","#FFB703"]},
          "legend": {"orient": "none", "legendX": 206.5, "legendY": 1073.5, "columns": 2, "title": null, "labelFontSize": 56, "labelFontStyle": "italic", "labelLimit": 600, "labelOffset": 38, "columnPadding": 13, "rowPadding": 29, "symbolOffset": 26, "symbolSize": 830, "strokeColor": "#d6d6d6", "fillColor": "white", "cornerRadius": 10, "padding": 12, "encoding": {"symbols": {"update": {"stroke": {"value": "black"}, "strokeWidth": {"value": 3}}}}}},
        "shape": {"field": "series", "type": "nominal",
          "scale": {"domain": ["p(d), 40","p(d), 45","p(τ), 40","p(τ), 45"], "range": ["M-1,0L0,-1L1,0L0,1Z","M-0.68,-0.68L0.68,0L-0.68,0.68Z","M-0.78,-0.78L0.78,-0.78L0.78,0.78L-0.78,0.78Z","M-0.755,0A0.755,0.755 0 1,1 0.755,0A0.755,0.755 0 1,1 -0.755,0Z"]},
          "legend": {"orient": "none", "legendX": 206.5, "legendY": 1073.5, "columns": 2, "title": null, "labelFontSize": 56, "labelFontStyle": "italic", "labelLimit": 600, "labelOffset": 38, "columnPadding": 13, "rowPadding": 29, "symbolOffset": 26, "symbolSize": 830, "strokeColor": "#d6d6d6", "fillColor": "white", "cornerRadius": 10, "padding": 12, "encoding": {"symbols": {"update": {"stroke": {"value": "black"}, "strokeWidth": {"value": 3}}}}}}
      }
    },
    {
      "data": {"values": [{"box": "clip"}]},
      "mark": {"type": "rect", "fill": "white"},
      "encoding": {
        "x": {"datum": 2.3, "type": "quantitative", "scale": {"type": "log", "domain": [0.03, 6.04], "range": [190.5, 1263.5], "nice": false}, "axis": null},
        "x2": {"datum": 3.0},
        "y": {"datum": 5, "type": "quantitative", "scale": {"domain": [-1.038, 5], "range": [1591.5, 1056.5], "nice": false, "zero": false}, "axis": null},
        "y2": {"datum": 5.2}
      }
    },
    {
      "data": {"values": [{"box": "gamma"}]},
      "mark": {"type": "rect", "fillOpacity": 0, "stroke": "black", "strokeWidth": 4.5},
      "encoding": {
        "x": {"datum": 0.03, "type": "quantitative", "scale": {"type": "log", "domain": [0.03, 6.04], "range": [190.5, 1263.5], "nice": false}, "axis": null},
        "x2": {"datum": 6.04},
        "y": {"datum": -1.038, "type": "quantitative", "scale": {"domain": [-1.038, 5], "range": [1591.5, 1056.5], "nice": false, "zero": false}, "axis": null},
        "y2": {"datum": 5}
      }
    },
    {
      "data": {"values": [{"t": 0.1, "exp": "−1"}, {"t": 1, "exp": "0"}]},
      "mark": {"type": "text", "fontSize": 47, "align": "center", "baseline": "alphabetic", "dx": 47, "dy": 41, "color": "black"},
      "encoding": {
        "x": {"field": "t", "type": "quantitative", "scale": {"type": "log", "domain": [0.03, 6.04], "range": [190.5, 1263.5], "nice": false}, "axis": null},
        "y": {"datum": -1.038, "type": "quantitative", "scale": {"domain": [-1.038, 5], "range": [1591.5, 1056.5], "nice": false, "zero": false}, "axis": null},
        "text": {"field": "exp"}
      }
    },
    {
      "data": {"name": "contour"},
      "mark": {"type": "area", "interpolate": "linear"},
      "encoding": {
        "x": {"field": "tau", "type": "quantitative", "scale": {"domain": [0, 6], "range": [1206.5, 1745.5], "nice": false},
          "axis": {"orient": "bottom", "offset": -1197.5, "title": "τ", "titleFontSize": 70, "titleFontStyle": "italic", "titleX": 1511.5, "titleY": 106, "titleBaseline": "middle",
            "values": [0, 2.5, 5], "format": ".1f", "labelFontSize": 65, "labelPadding": 19, "tickSize": 8, "tickWidth": 2.5}},
        "y": {"field": "hi", "type": "quantitative", "stack": null, "scale": {"domain": [0, 21.1], "range": [527.5, 67.5], "nice": false},
          "axis": {"orient": "left", "offset": -1206.5, "title": "d", "titleFontSize": 72, "titleFontStyle": "italic", "titleX": -116, "titleY": 237.5, "titleBaseline": "middle",
            "values": [0, 10, 20], "labelFontSize": 65, "labelPadding": 23, "tickSize": 8, "tickWidth": 2.5}},
        "y2": {"field": "lo"},
        "fill": {"field": "level", "type": "ordinal",
          "scale": {"domain": [-7.85,-6.62,-6.02,-5.42,-4.82,-4.22,-3.62,-3.01,-2.41,-1.81,-1.2,-0.6], "range": ["#450559","#482576","#414487","#38578c","#2f6c8e","#26828e","#1f968b","#22a884","#45bf70","#75d054","#aadc32","#e4e31a"]},
          "legend": null},
        "detail": {"field": "piece"}
      }
    },
    {
      "data": {"values": [{"box": "contour"}]},
      "mark": {"type": "rect", "fillOpacity": 0, "stroke": "black", "strokeWidth": 7},
      "encoding": {
        "x": {"datum": 0, "type": "quantitative", "scale": {"domain": [0, 6], "range": [1206.5, 1745.5], "nice": false}, "axis": null},
        "x2": {"datum": 6},
        "y": {"datum": 0, "type": "quantitative", "scale": {"domain": [0, 21.1], "range": [527.5, 67.5], "nice": false}, "axis": null},
        "y2": {"datum": 21.1}
      }
    },
    {
      "data": {"name": "bands"},
      "mark": {"type": "rect"},
      "encoding": {
        "x": {"datum": 0, "type": "quantitative", "scale": {"domain": [0, 1], "range": [1777.5, 1827.5], "nice": false}, "axis": null},
        "x2": {"datum": 1},
        "y": {"field": "level", "type": "quantitative",
          "scale": {"domain": [-7.85, 0], "range": [529.5, 67.5], "nice": false, "zero": false},
          "axis": {"orient": "right", "offset": -156.5, "title": "log(p)", "titleFontSize": 72, "titleAngle": -90, "titleX": 73, "titleY": 281.5, "titleBaseline": "middle",
            "values": [0, -7], "labelExpr": "datum.value==0 ? '0' : '−7'", "labelFontSize": 65, "labelPadding": 21, "tickSize": 8, "tickWidth": 2.5}},
        "y2": {"field": "high"},
        "fill": {"field": "level", "type": "ordinal",
          "scale": {"domain": [-7.85,-6.62,-6.02,-5.42,-4.82,-4.22,-3.62,-3.01,-2.41,-1.81,-1.2,-0.6], "range": ["#450559","#482576","#414487","#38578c","#2f6c8e","#26828e","#1f968b","#22a884","#45bf70","#75d054","#aadc32","#e4e31a"]},
          "legend": null}
      }
    },
    {
      "data": {"values": [{"box": "colorbar"}]},
      "mark": {"type": "rect", "fillOpacity": 0, "stroke": "black", "strokeWidth": 7},
      "encoding": {
        "x": {"datum": 0, "type": "quantitative", "scale": {"domain": [0, 1], "range": [1777.5, 1827.5], "nice": false}, "axis": null},
        "x2": {"datum": 1},
        "y": {"datum": -7.85, "type": "quantitative", "scale": {"domain": [-7.85, 0], "range": [529.5, 67.5], "nice": false, "zero": false}, "axis": null},
        "y2": {"datum": 0}
      }
    }
  ]
}
